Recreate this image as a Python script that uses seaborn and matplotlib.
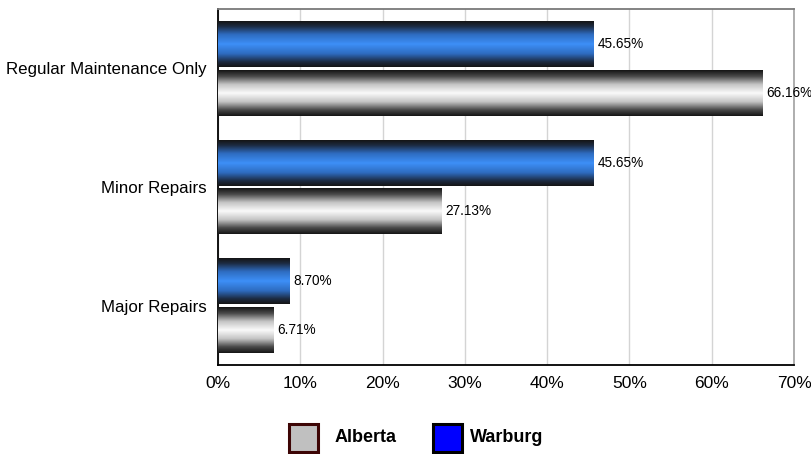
import matplotlib
matplotlib.use("Agg")
import matplotlib.pyplot as plt
import seaborn as sns
import pandas as pd
import numpy as np
from matplotlib.colors import LinearSegmentedColormap
from matplotlib.patches import Rectangle

categories = ["Regular Maintenance Only", "Minor Repairs", "Major Repairs"]
warburg = [45.65, 45.65, 8.70]
alberta = [66.16, 27.13, 6.71]
ticks = [0, 10, 20, 30, 40, 50, 60, 70]

df = pd.DataFrame({
    "category": categories * 2,
    "value": warburg + alberta,
    "group": ["Warburg"] * 3 + ["Alberta"] * 3,
})

sns.set_style("white")
plt.rcParams["font.family"] = ["Liberation Sans", "DejaVu Sans"]
plt.rcParams["text.color"] = "black"
plt.rcParams["xtick.color"] = "black"
plt.rcParams["ytick.color"] = "black"

fig = plt.figure(figsize=(8.12, 4.54), dpi=100)
ax = fig.add_axes([0.2685, 0.196, 0.7094, 0.7841])

sns.barplot(data=df, y="category", x="value", hue="group",
            hue_order=["Warburg", "Alberta"], orient="h",
            width=0.82, gap=0.06, dodge=True, legend=False, ax=ax)

# cylinder-style shading for each series
blue_cmap = LinearSegmentedColormap.from_list(
    "blue_cyl", [(0, "#151515"), (0.22, "#1c2a40"), (0.58, "#2e6cc0"), (1, "#3d8ff7")])
grey_cmap = LinearSegmentedColormap.from_list(
    "grey_cyl", [(0, "#151515"), (0.27, "#4a4a4a"), (0.62, "#c4c4c4"), (1, "#fafafa")])
t = np.linspace(0, 1, 200)
profile = (1 - np.abs(2 * t - 1)).reshape(-1, 1)

for container, cmap in zip(ax.containers, [blue_cmap, grey_cmap]):
    for bar in container:
        x0, y0 = bar.get_x(), bar.get_y()
        w, h = bar.get_width(), bar.get_height()
        ax.imshow(profile, extent=[x0, x0 + w, y0 + h, y0], aspect="auto",
                  cmap=cmap, vmin=0, vmax=1, zorder=3, interpolation="bilinear")
        bar.set_alpha(0)
    vals = [b.get_width() for b in container]
    ax.bar_label(container, labels=[f"{v:.2f}%" for v in vals], padding=3,
                 fontsize=9.8, color="black", zorder=4)

ax.set_xlim(0, 70)
ax.set_ylim(2.5, -0.5)

ax.set_xticks(ticks)
ax.set_xticklabels([f"{v}%" for v in ticks], fontsize=12.5)
ax.tick_params(axis="y", labelsize=12.2, length=0, pad=8)
ax.tick_params(axis="x", length=0, pad=8)
ax.set_xlabel("")
ax.set_ylabel("")

ax.grid(axis="x", color="#d4d4d4", linewidth=1)
ax.set_axisbelow(True)

for side in ["left", "bottom"]:
    ax.spines[side].set_color("black")
    ax.spines[side].set_linewidth(1.3)
ax.spines["top"].set_color("#7a7a7a")
ax.spines["right"].set_color("#a8a8a8")
for side in ["top", "right"]:
    ax.spines[side].set_linewidth(1.3)

# legend drawn as figure boxes and labels
W, H = 812, 454
legend_items = [("Alberta", "#c0c0c0", "#3d0505", 289.5, 335),
                ("Warburg", "#0000ff", "black", 433.5, 470)]
for name, face, edge, bx, tx in legend_items:
    fig.patches.append(Rectangle((bx / W, (H - 451.5) / H), 29 / W, 28 / H,
                                 transform=fig.transFigure, facecolor=face,
                                 edgecolor=edge, linewidth=2.2))
    fig.text(tx / W, (H - 438) / H, name, fontsize=13, fontweight="bold",
             va="center", ha="left")

fig.savefig("out.png", dpi=100)
